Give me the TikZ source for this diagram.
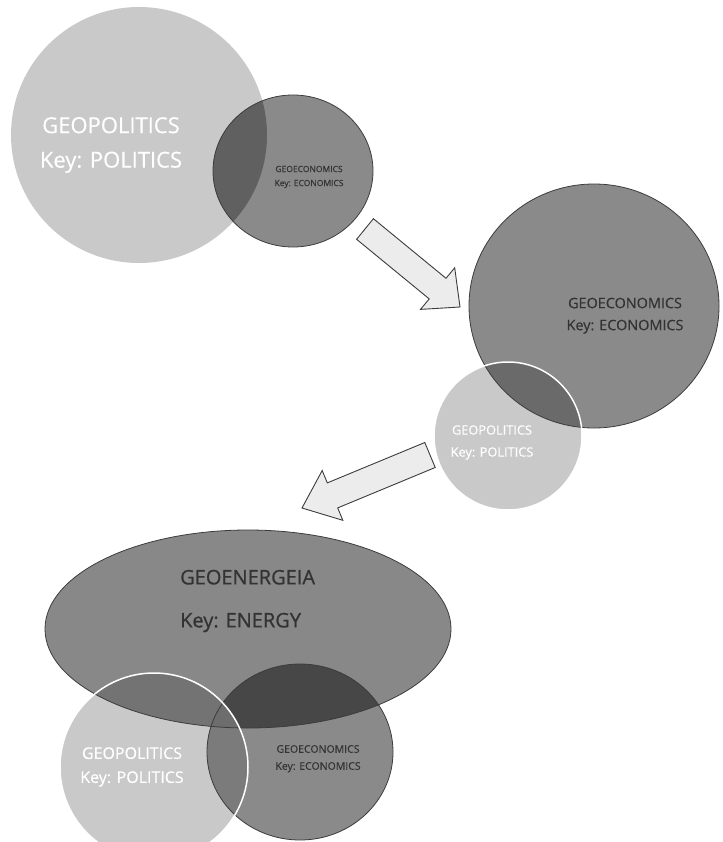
\documentclass[tikz,border=0pt]{standalone}
\usepackage{fontspec}
\setmainfont{Open Sans}
\newfontfamily\labelfont[FakeBold=0.4]{Open Sans}
\newfontfamily\headfont[FakeBold=1.0]{Open Sans}
\definecolor{polc}{HTML}{C9C9C9}
\definecolor{ecoc}{HTML}{8A8A8A}
\definecolor{enec}{HTML}{888888}
\definecolor{ovtop}{HTML}{606060}
\definecolor{ovmid}{HTML}{6A6A6A}
\definecolor{ovEP}{HTML}{737373}
\definecolor{ovEC}{HTML}{474747}
\definecolor{ovPC}{HTML}{7B7B7B}
\definecolor{ovEPC}{HTML}{6D6D6D}
\definecolor{linec}{HTML}{3C3C3C}
\definecolor{darktext}{HTML}{333333}
\definecolor{arrowfill}{HTML}{ECECEC}
\tikzset{
  shpPa/.style={insert path={(139,135) circle[radius=128pt]}},
  shpCa/.style={insert path={(293,171) ellipse[x radius=80pt,y radius=76pt]}},
  shpCb/.style={insert path={(594,306) ellipse[x radius=125pt,y radius=122pt]}},
  shpPb/.style={insert path={(508,436) circle[radius=74pt]}},
  shpE/.style={insert path={(248,629) ellipse[x radius=203pt,y radius=99pt]}},
  shpPc/.style={insert path={(154,767) circle[radius=94pt]}},
  shpCc/.style={insert path={(300,752) ellipse[x radius=93pt,y radius=88pt]}},
  darkline/.style={draw=linec,line width=0.8pt},
  whiteline/.style={draw=white,line width=1.5pt},
  blockarrow/.style={fill=arrowfill,draw=linec,line width=0.9pt,line join=miter},
  lbl/.style={inner sep=0pt,align=center},
}
\begin{document}
\begin{tikzpicture}[x=1pt,y=-1pt]
\useasboundingbox (0,0) rectangle (722,842);
% ---------- top pair ----------
\fill[polc,shpPa];
\fill[ecoc,shpCa];
\begin{scope}
  \clip[shpPa];
  \fill[ovtop,shpCa];
\end{scope}
\draw[darkline,shpCa];
\node[lbl,text=white,font=\labelfont\fontsize{22}{34.5}\selectfont] (pol1) at (111,145) {GEOPOLITICS\\Key: POLITICS};
\node[lbl,text=darktext,font=\labelfont\fontsize{8.5}{14}\selectfont] (eco1) at (309,177) {GEOECONOMICS\\Key: ECONOMICS};
% ---------- arrow 1 ----------
\coordinate (a1t) at (365,229);
\coordinate (a1h) at (460,307);
\filldraw[blockarrow] (356.6,239.3) -- (373.4,218.7) -- (446.0,278.3) -- (454.7,267.8) -- (a1h) -- (420.5,309.4) -- (429.2,298.9) -- cycle;
% ---------- middle pair ----------
\coordinate (a2t) at (430,455);
\coordinate (a2h) at (302,508);
\filldraw[blockarrow] (424.8,442.5) -- (327.3,482.9) -- (322.2,470.5) -- (a2h) -- (342.8,520.3) -- (337.7,507.9) -- (435.2,467.5) -- cycle;
\fill[ecoc,shpCb];
\fill[polc,shpPb];
\begin{scope}
  \clip[shpCb];
  \fill[ovmid,shpPb];
\end{scope}
\draw[darkline,shpCb];
\draw[whiteline,shpPb];
\node[lbl,text=darktext,font=\labelfont\fontsize{14.4}{22}\selectfont] (eco2) at (625,315.7) {GEOECONOMICS\\Key: ECONOMICS};
\node[lbl,text=white,font=\labelfont\fontsize{12.8}{22}\selectfont] (pol2) at (492,442.5) {GEOPOLITICS\\Key: POLITICS};
% ---------- bottom group ----------
\fill[enec,shpE];
\fill[polc,shpPc];
\fill[ecoc,shpCc];
\begin{scope}
  \clip[shpE];
  \fill[ovEP,shpPc];
\end{scope}
\begin{scope}
  \clip[shpE];
  \fill[ovEC,shpCc];
\end{scope}
\begin{scope}
  \clip[shpPc];
  \fill[ovPC,shpCc];
\end{scope}
\begin{scope}
  \clip[shpE];
  \clip[shpPc];
  \fill[ovEPC,shpCc];
\end{scope}
\draw[darkline,shpE];
\draw[darkline,shpCc];
\draw[whiteline,shpPc];
\node[inner sep=0pt,align=left,anchor=west,text=darktext,font=\headfont\fontsize{20}{43}\selectfont] (ene) at (180,601) {GEOENERGEIA\\Key: ENERGY};
\node[lbl,text=white,font=\labelfont\fontsize{16}{24}\selectfont] (pol3) at (132,767) {GEOPOLITICS\\Key: POLITICS};
\node[lbl,text=darktext,font=\labelfont\fontsize{10.5}{17}\selectfont] (eco3) at (318,758.7) {GEOECONOMICS\\Key: ECONOMICS};
\end{tikzpicture}
\end{document}
